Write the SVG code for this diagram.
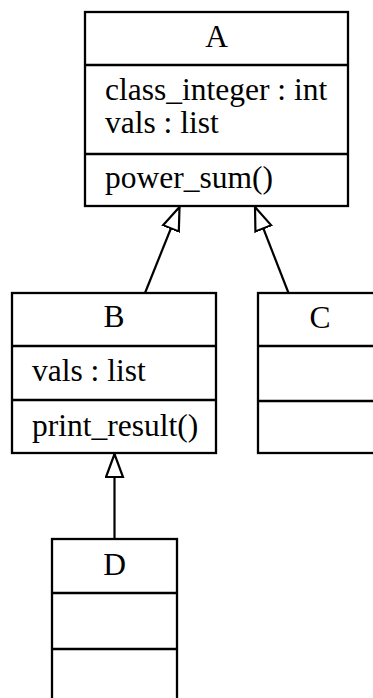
<svg xmlns="http://www.w3.org/2000/svg" width="373" height="698" viewBox="0 0 373 698">
<style>
.box{fill:#fff;stroke:#000;stroke-width:2.3}
.sep{stroke:#000;stroke-width:2.3}
.t{font-family:"Liberation Serif","Times New Roman",serif;font-size:31.5px;fill:#000}
.c{text-anchor:middle}
.edge{stroke:#000;stroke-width:2.2;fill:none;marker-end:url(#tri)}
</style>
<defs>
<marker id="tri" viewBox="0 0 26 20" refX="24" refY="10" markerWidth="26" markerHeight="20" markerUnits="userSpaceOnUse" orient="auto">
<path d="M1,1.5 L24,10 L1,18.5 Z" fill="#fff" stroke="#000" stroke-width="2.2"/>
</marker>
</defs>
<rect width="373" height="698" fill="#fff"/>
<g id="A">
<rect class="box" x="85" y="12" width="263" height="194"/>
<line class="sep" x1="85" y1="65" x2="348" y2="65"/>
<line class="sep" x1="85" y1="154" x2="348" y2="154"/>
<text class="t c" x="216.5" y="47">A</text>
<text class="t" x="105" y="100">class_integer : int</text>
<text class="t" x="105" y="133">vals : list</text>
<text class="t" x="105" y="188">power_sum()</text>
</g>
<g id="B">
<rect class="box" x="12" y="293" width="204" height="160"/>
<line class="sep" x1="12" y1="346" x2="216" y2="346"/>
<line class="sep" x1="12" y1="400" x2="216" y2="400"/>
<text class="t c" x="114" y="327">B</text>
<text class="t" x="32" y="381">vals : list</text>
<text class="t" x="32" y="436">print_result()</text>
</g>
<g id="C">
<rect class="box" x="258" y="293" width="124" height="160"/>
<line class="sep" x1="258" y1="346" x2="382" y2="346"/>
<line class="sep" x1="258" y1="401" x2="382" y2="401"/>
<text class="t c" x="320" y="328">C</text>
</g>
<g id="D">
<rect class="box" x="52" y="539" width="125" height="167"/>
<line class="sep" x1="52" y1="593" x2="177" y2="593"/>
<line class="sep" x1="52" y1="649" x2="177" y2="649"/>
<text class="t c" x="114.5" y="575">D</text>
</g>
<g id="connectors">
<line class="edge" x1="145" y1="293" x2="179.5" y2="207"/>
<line class="edge" x1="288.5" y1="293" x2="255" y2="207"/>
<line class="edge" x1="114.5" y1="539" x2="114.5" y2="454"/>
</g>
</svg>
